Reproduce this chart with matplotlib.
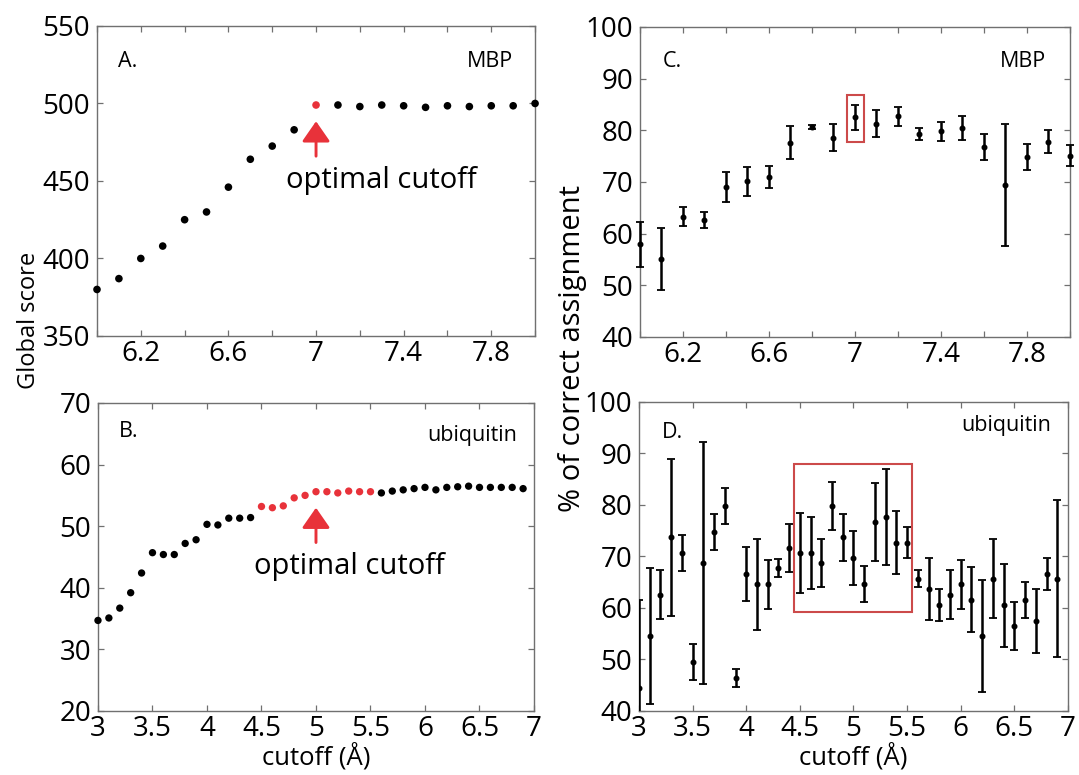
import matplotlib
matplotlib.use("Agg")
import matplotlib.pyplot as plt
from matplotlib.patches import Rectangle

plt.rcParams['font.family'] = ['Open Sans', 'DejaVu Sans']

# ---------------- data ----------------
A_x = [6.0, 6.1, 6.2, 6.3, 6.4, 6.5, 6.6, 6.7, 6.8, 6.9, 7.0, 7.1, 7.2, 7.3, 7.4,
       7.5, 7.6, 7.7, 7.8, 7.9, 8.0]
A_y = [380, 387, 400, 408, 425, 430, 446, 464, 472.5, 483, 499, 499, 498, 499,
       498.5, 497.5, 498.5, 498, 498.5, 498.5, 500]
A_opt = [7.0]

B_x = [3.0, 3.1, 3.2, 3.3, 3.4, 3.5, 3.6, 3.7, 3.8, 3.9,
       4.0, 4.1, 4.2, 4.3, 4.4, 4.5, 4.6, 4.7, 4.8, 4.9,
       5.0, 5.1, 5.2, 5.3, 5.4, 5.5, 5.6, 5.7, 5.8, 5.9,
       6.0, 6.1, 6.2, 6.3, 6.4, 6.5, 6.6, 6.7, 6.8, 6.9]
B_y = [34.7, 35.1, 36.7, 39.2, 42.4, 45.7, 45.4, 45.4, 47.2, 47.8,
       50.3, 50.2, 51.3, 51.3, 51.4, 53.2, 53.0, 53.3, 54.6, 55.0,
       55.6, 55.6, 55.4, 55.7, 55.6, 55.6, 55.4, 55.7, 55.9, 56.1,
       56.3, 55.9, 56.3, 56.4, 56.5, 56.3, 56.3, 56.3, 56.3, 56.1]
B_opt_range = [4.5, 5.5]

C_x = A_x
C_y = [57.9, 55.1, 63.3, 62.6, 69.0, 70.1, 71.0, 77.6, 80.6, 78.6, 82.5, 81.3,
       82.7, 79.3, 79.8, 80.5, 76.7, 69.4, 74.8, 77.8, 75.1]
C_err = [4.4, 6.0, 1.9, 1.6, 2.85, 2.75, 2.1, 3.2, 0.4, 2.7, 2.4, 2.6, 1.9, 1.2,
         1.9, 2.3, 2.5, 11.8, 2.5, 2.2, 2.1]
C_box = [6.963, 7.04, 77.8, 86.8]   # x0, x1, y0, y1

D_x = B_x
D_y = [44.4, 54.5, 62.6, 73.7, 70.7, 49.5, 68.7, 74.8, 79.8, 46.4,
       66.6, 64.6, 64.6, 67.7, 71.7, 70.7, 70.7, 68.7, 79.8, 73.7,
       69.7, 64.6, 76.7, 77.7, 72.7, 72.7, 65.7, 63.7, 60.5, 62.6,
       64.6, 61.6, 54.5, 65.7, 60.5, 56.5, 61.6, 57.5, 66.6, 65.7]
D_err = [17.2, 13.2, 4.7, 15.3, 3.5, 3.5, 23.5, 3.5, 3.5, 1.8,
         5.25, 8.8, 4.7, 1.75, 4.7, 7.7, 7.0, 4.6, 4.7, 4.6,
         5.3, 3.5, 7.6, 9.3, 6.05, 3.0, 1.7, 6.1, 3.1, 4.7,
         4.7, 6.3, 10.9, 7.6, 8.0, 4.7, 3.5, 6.2, 3.05, 15.3]
D_box = [4.444, 5.543, 59.25, 88.0]

mbp_ticks = [6.0, 6.2, 6.4, 6.6, 6.8, 7.0, 7.2, 7.4, 7.6, 7.8, 8.0]
mbp_ticklabels = ['', '6.2', '', '6.6', '', '7', '', '7.4', '', '7.8', '']
ubq_ticks = [3, 3.5, 4, 4.5, 5, 5.5, 6, 6.5, 7]
ubq_ticklabels = ['3', '3.5', '4', '4.5', '5', '5.5', '6', '6.5', '7']
A_yticks = [350, 400, 450, 500, 550]
B_yticks = [20, 30, 40, 50, 60, 70]
CD_yticks = [40, 50, 60, 70, 80, 90, 100]

RED = '#e8323a'
BOXRED = '#cc4a4a'
SPINE = '#707070'
TICKFS = 20
TXTFS = 15.5
ANNFS = 21
LABFS = 18.5

fig = plt.figure(figsize=(10.79, 7.75), dpi=100)
axA = fig.add_axes([0.0899, 0.5665, 0.406, 0.400])
axC = fig.add_axes([0.5931, 0.5652, 0.3985, 0.400])
axB = fig.add_axes([0.0908, 0.0826, 0.4041, 0.3974])
axD = fig.add_axes([0.5922, 0.0826, 0.3976, 0.3987])


def style(ax, xt, xtl, yt, xlim, ylim):
    ax.set_xlim(*xlim)
    ax.set_ylim(*ylim)
    ax.set_xticks(xt)
    ax.set_xticklabels(xtl)
    ax.set_yticks(yt)
    ax.set_yticklabels([str(v) for v in yt])
    ax.tick_params(direction='in', top=True, right=True, length=4, width=0.9,
                   color=SPINE, labelsize=TICKFS)
    ax.tick_params(axis='y', pad=5)
    ax.tick_params(axis='x', pad=3)
    for s in ax.spines.values():
        s.set_color(SPINE)
        s.set_linewidth(1.0)


arrow_props = dict(arrowstyle='-|>,head_width=0.43,head_length=0.62',
                   color=RED, lw=2.1, mutation_scale=20, shrinkA=0, shrinkB=0)

# Panel A
style(axA, mbp_ticks, mbp_ticklabels, A_yticks, (6.0, 8.0), (350, 550))
colA = [RED if x in A_opt else 'black' for x in A_x]
axA.scatter(A_x, A_y, s=30, c=colA, clip_on=False, zorder=3, linewidths=0)
axA.annotate('', xy=(7.0, 488.5), xytext=(7.0, 466), arrowprops=arrow_props)
axA.text(7.30, 445.7, 'optimal cutoff', ha='center', va='baseline', fontsize=ANNFS)
axA.text(0.048, 0.868, 'A.', transform=axA.transAxes, fontsize=TXTFS, va='baseline')
axA.text(0.95, 0.868, 'MBP', transform=axA.transAxes, fontsize=TXTFS, va='baseline', ha='right')

# Panel B
style(axB, ubq_ticks, ubq_ticklabels, B_yticks, (3, 7), (20, 70))
colB = [RED if B_opt_range[0] - 1e-9 <= x <= B_opt_range[1] + 1e-9 else 'black' for x in B_x]
axB.scatter(B_x, B_y, s=28, c=colB, clip_on=False, zorder=3, linewidths=0)
axB.annotate('', xy=(5.0, 53.0), xytext=(5.0, 47.35), arrowprops=arrow_props)
axB.text(5.31, 42.3, 'optimal cutoff', ha='center', va='baseline', fontsize=ANNFS)
axB.text(0.048, 0.89, 'B.', transform=axB.transAxes, fontsize=TXTFS, va='baseline')
axB.text(0.961, 0.877, 'ubiquitin', transform=axB.transAxes, fontsize=TXTFS, va='baseline', ha='right')
axB.set_xlabel('cutoff (Å)', fontsize=LABFS, labelpad=0)

# Panel C
style(axC, mbp_ticks, mbp_ticklabels, CD_yticks, (6.0, 8.0), (40, 100))
axC.errorbar(C_x, C_y, yerr=C_err, fmt='o', ms=3.3, color='black', ecolor='black',
             elinewidth=1.8, capsize=2.8, capthick=1.3, clip_on=False, zorder=3)
axC.add_patch(Rectangle((C_box[0], C_box[2]), C_box[1] - C_box[0], C_box[3] - C_box[2],
                        fill=False, edgecolor=BOXRED, lw=1.5, zorder=4))
axC.text(0.053, 0.87, 'C.', transform=axC.transAxes, fontsize=TXTFS, va='baseline')
axC.text(0.944, 0.87, 'MBP', transform=axC.transAxes, fontsize=TXTFS, va='baseline', ha='right')

# Panel D
style(axD, ubq_ticks, ubq_ticklabels, CD_yticks, (3, 7), (40, 100))
axD.errorbar(D_x, D_y, yerr=D_err, fmt='o', ms=3.3, color='black', ecolor='black',
             elinewidth=1.8, capsize=2.8, capthick=1.3, zorder=3)
axD.add_patch(Rectangle((D_box[0], D_box[2]), D_box[1] - D_box[0], D_box[3] - D_box[2],
                        fill=False, edgecolor=BOXRED, lw=1.5, zorder=4))
axD.text(0.054, 0.884, 'D.', transform=axD.transAxes, fontsize=TXTFS, va='baseline')
axD.text(0.96, 0.907, 'ubiquitin', transform=axD.transAxes, fontsize=TXTFS, va='baseline', ha='right')
axD.set_xlabel('cutoff (Å)', fontsize=LABFS, labelpad=0)

fig.text(0.027, 0.587, 'Global score', rotation=90, ha='center', va='center', fontsize=17)
fig.text(0.531, 0.55, '% of correct assignment', rotation=90, ha='center', va='center', fontsize=21)

fig.savefig('out.png', dpi=100)
